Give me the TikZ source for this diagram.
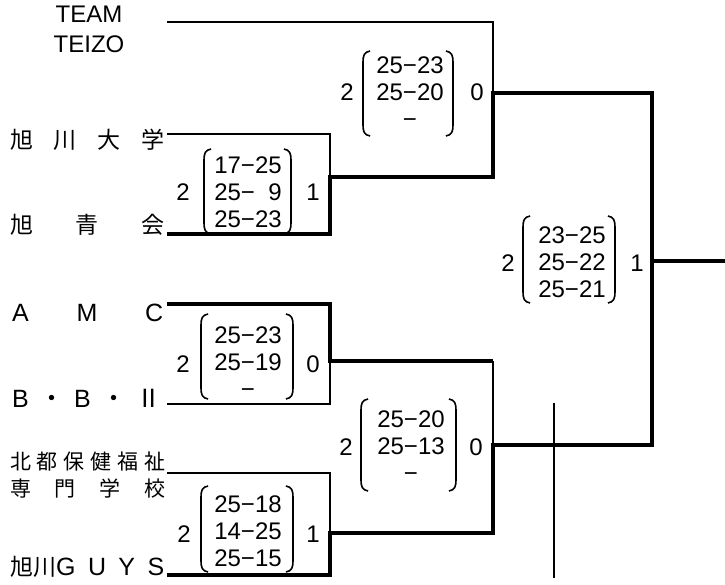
\documentclass[tikz,border=0pt]{standalone}
\usepackage{fontspec}
\setmainfont{Liberation Sans}
\newfontfamily\cjk{Noto Sans CJK JP}

\tikzset{
  thinline/.style={line width=1.8pt},
  thickline/.style={line width=4pt},
  paren/.style={line width=1.6pt},
  latin/.style={font=\fontsize{25}{25}\selectfont},
  kanji/.style={font=\cjk\fontsize{23}{23}\selectfont},
  smallkanji/.style={font=\cjk\fontsize{21}{21}\selectfont},
  team/.style={anchor=west,inner sep=0pt},
  setnum/.style={inner sep=0pt,font=\fontsize{24}{24}\selectfont},
  sets/.style={inner sep=0pt,align=center,font=\fontsize{24}{27}\selectfont},
}

\begin{document}
\begin{tikzpicture}[x=1pt,y=-1pt,line join=miter]
  \useasboundingbox (0,0) rectangle (725,585);

  % team names
  \node[inner sep=0pt,align=center,font=\fontsize{24}{30}\selectfont] (teizo) at (89,29) {TEAM\\TEIZO};
  \node[team,kanji] (asadai) at (10,139.5) {\makebox[154pt]{旭\hfill 川\hfill 大\hfill 学}};
  \node[team,kanji] (asasei) at (10,225) {\makebox[154pt]{旭\hfill 青\hfill 会}};
  \node[team,latin] (amc) at (12,313) {\makebox[151pt]{A\hfill M\hfill C}};
  \node[team,latin] (bb2) at (12,398) {\makebox[149pt]{B\hfill{\cjk ・}\hfill B\hfill{\cjk ・}\hfill{\cjk Ⅱ}}};
  \node[team,smallkanji] (hokuto) at (10,462) {\makebox[155pt]{北\hfill 都\hfill 保\hfill 健\hfill 福\hfill 祉}};
  \node[team,smallkanji] (senmon) at (10,488) {\makebox[155pt]{専\hfill 門\hfill 学\hfill 校}};
  \node[team,latin] (guys) at (10,567) {\makebox[154pt]{{\cjk\fontsize{23}{23}\selectfont 旭川}G\hfill U\hfill Y\hfill S}};

  % bracket points
  \coordinate (teizo-e)  at (167,22);
  \coordinate (asadai-e) at (167,134);
  \coordinate (asasei-e) at (167,234);
  \coordinate (amc-e)    at (167,304);
  \coordinate (bb-e)     at (167,404);
  \coordinate (hokuto-e) at (167,473);
  \coordinate (guys-e)   at (167,575);
  \coordinate (m1)  at (330,177);
  \coordinate (m2)  at (330,361);
  \coordinate (m3)  at (330,533);
  \coordinate (s1)  at (493,93);
  \coordinate (s2)  at (493,445);
  \coordinate (fin) at (652,261);
  \coordinate (champ) at (725,261);
  \coordinate (mark-t) at (554,403);
  \coordinate (mark-b) at (554,578);

  % lines
  \draw[thinline] (teizo-e) -| (s1);
  \draw[thinline] (asadai-e) -| (m1);
  \draw[thinline] (bb-e) -| (m2);
  \draw[thinline] (hokuto-e) -| (m3);
  \draw[thinline] (m2 -| s2) -- (s2);
  \draw[thickline] (asasei-e) -| (m1) -| (s1) -| (fin) |- (s2) |- (m3) |- (guys-e);
  \draw[thickline] (amc-e) -| (m2) -- (m2 -| s2);
  \draw[thickline] (fin) -- (champ);
  \draw[line width=1.4pt] (mark-t) -- (mark-b);

  % set scores
  \foreach \lx/\rx/\ty/\by in {204/291/149/234, 363/453/51/136, 523/615/216/303,
                               201/293/314/399, 361/456/399/491, 201/293/486/572}
    \draw[paren] (\lx+7,\ty) .. controls (\lx+1,\ty+1) and (\lx,\ty+5) .. (\lx,\ty+11)
                 -- (\lx,\by-11) .. controls (\lx,\by-5) and (\lx+1,\by-1) .. (\lx+7,\by)
                 (\rx-7,\ty) .. controls (\rx-1,\ty+1) and (\rx,\ty+5) .. (\rx,\ty+11)
                 -- (\rx,\by-11) .. controls (\rx,\by-5) and (\rx-1,\by-1) .. (\rx-7,\by);
  \node[sets] (sc-m1) at (248,192) {17−25\\25−\phantom{0}9\\25−23};
  \node[sets] (sc-s1) at (410,92)  {25−23\\25−20\\\vphantom{0}−};
  \node[sets] (sc-f)  at (572,262) {23−25\\25−22\\25−21};
  \node[sets] (sc-m2) at (248,362) {25−23\\25−19\\\vphantom{0}−};
  \node[sets] (sc-s2) at (411,446) {25−20\\25−13\\\vphantom{0}−};
  \node[sets] (sc-m3) at (248,531) {25−18\\14−25\\25−15};

  % games won
  \foreach \n/\px/\py/\g in {m1-l/183/192/2, m1-r/313/192/1, s1-l/347/92/2, s1-r/477/92/0,
                             f-l/508/263/2, f-r/637/263/1, m2-l/183/364/2, m2-r/313/364/0,
                             s2-l/346/447/2, s2-r/476/447/0, m3-l/184/534/2, m3-r/313/534/1}
    \node[setnum] (\n) at (\px,\py) {\g};
\end{tikzpicture}
\end{document}
